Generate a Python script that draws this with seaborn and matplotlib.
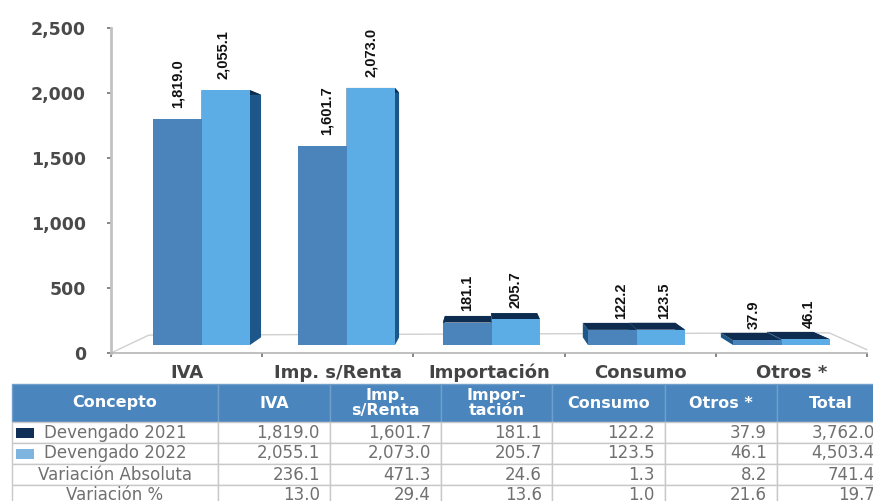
import matplotlib
matplotlib.use("Agg")
import matplotlib.pyplot as plt
from matplotlib.patches import Polygon, Rectangle
import pandas as pd
import seaborn as sns

W, H = 873, 501
categories = ["IVA", "Imp. s/Renta", "Importación", "Consumo", "Otros *"]
series_names = ["Devengado 2021", "Devengado 2022"]
dev_2021 = [1819.0, 1601.7, 181.1, 122.2, 37.9]
dev_2022 = [2055.1, 2073.0, 205.7, 123.5, 46.1]
y_ticks = [0, 500, 1000, 1500, 2000, 2500]

table_cols = ["Concepto", "IVA", "Imp.\ns/Renta", "Impor-\ntación", "Consumo", "Otros *", "Total"]
row_2021 = ["1,819.0", "1,601.7", "181.1", "122.2", "37.9", "3,762.0"]
row_2022 = ["2,055.1", "2,073.0", "205.7", "123.5", "46.1", "4,503.4"]
row_abs = ["236.1", "471.3", "24.6", "1.3", "8.2", "741.4"]
row_pct = ["13.0", "29.4", "13.6", "1.0", "21.6", "19.7"]
row_names = ["Devengado 2021", "Devengado 2022", "Variación Absoluta", "Variación %"]

sns.set_theme(style="white")
plt.rcParams["font.family"] = ["DejaVu Sans"]
fig = plt.figure(figsize=(W / 100, H / 100), dpi=100, facecolor="white")


def axes_px(x0, y_top, x1, y_bot, **kw):
    return fig.add_axes([x0 / W, 1 - y_bot / H, (x1 - x0) / W, (y_bot - y_top) / H], **kw)


# scale axis: value scale and category labels on the chart's front edge
ax0 = axes_px(111, 28, 867, 353)
ax0.set_xlim(0, 5)
ax0.set_ylim(0, 2500)
ax0.set_yticks(y_ticks)
ax0.set_yticklabels([f"{v:,}" for v in y_ticks], fontsize=12.5, color="#4a4a4a", fontweight="bold")
ax0.set_xticks(range(6))
ax0.set_xticklabels([])
ax0.set_xticks([i + 0.5 for i in range(5)], minor=True)
ax0.set_xticklabels(categories, minor=True, fontsize=13, color="#444444", fontweight="bold", va="baseline")
ax0.tick_params(axis="x", which="minor", length=0, pad=18)
ax0.tick_params(axis="x", which="major", length=3, color="#777777", direction="out", bottom=True)
ax0.tick_params(axis="y", length=3, color="#777777", left=True, pad=15)
for s in ["top", "right"]:
    ax0.spines[s].set_visible(False)
ax0.spines["left"].set_color("#c2c2c2")
ax0.spines["left"].set_linewidth(2)
ax0.spines["bottom"].set_color("#b5b5b5")
ax0.spines["bottom"].set_linewidth(1.2)
# receding floor edges
ax0.plot([0.0, 0.05, 0.95, 1.0], [0, 0.055, 0.062, 0.01], transform=ax0.transAxes,
         color="#d0d0d0", lw=1, clip_on=False)

# bar axis: front plane of the columns
ax = axes_px(129, 345 - 0.124 * 2500, 854, 345)
ax.patch.set_alpha(0)
df = pd.DataFrame({
    "Concepto": categories * 2,
    "Serie": [series_names[0]] * 5 + [series_names[1]] * 5,
    "Valor": dev_2021 + dev_2022,
})
sns.barplot(data=df, x="Concepto", y="Valor", hue="Serie", order=categories, hue_order=series_names,
            palette=["#4a84ba", "#5cade6"], width=0.669, dodge=True, gap=0, saturation=1,
            legend=False, ax=ax, zorder=3, edgecolor="none", linewidth=0)
ax.set_xlim(-0.5, 4.5)
ax.set_ylim(0, 2500)
ax.axis("off")

VX, VY, K = 480, 185, 0.048
side_col = "#1d5688"
top_col = "#0d2c4f"
fig.canvas.draw()
inv = ax.transData.inverted()


def depth(p):
    """Point p of the front plane carried back towards the vanishing point (ax data coords)."""
    x, y = ax.transData.transform(p)
    y = H - y
    return tuple(inv.transform((x + (VX - x) * K, H - (y + (VY - y) * K))))


bars = [b for b in ax.patches if b.get_height() > 0]
label_dx = [0, 4, 0, 9, -4, -3, 0, 0, 3, 3]
labels = [f"{v:,.1f}" for v in dev_2021 + dev_2022]
for i, b in enumerate(bars):
    x0, x1, h = b.get_x(), b.get_x() + b.get_width(), b.get_height()
    fl, fr, tl, tr = (x0, 0), (x1, 0), (x0, h), (x1, h)
    for p, q in [(fr, tr), (fl, tl)]:
        ax.add_patch(Polygon([p, q, depth(q), depth(p)], closed=True, facecolor=side_col,
                             edgecolor="none", zorder=2))
    ax.add_patch(Polygon([tl, tr, depth(tr), depth(tl)], closed=True, facecolor=top_col,
                         edgecolor="none", zorder=2.5))
    ax.annotate(labels[i], (x0 + b.get_width() / 2, h), xytext=(label_dx[i] * 0.72, 8),
                textcoords="offset points", rotation=90, ha="center", va="bottom",
                fontsize=10.5, fontweight="bold", color="#111111",
                family=["Liberation Sans", "DejaVu Sans"], zorder=5)

# table
col_edges = [12, 218, 330, 441, 552, 665, 777, 885]
row_px = [38, 21, 21, 21, 21]
tab_h = sum(row_px)
tax = axes_px(col_edges[0], 384, col_edges[-1], 384 + tab_h)
tax.axis("off")
rows = [[n] + r for n, r in zip(row_names, [row_2021, row_2022, row_abs, row_pct])]
tbl = tax.table(cellText=[table_cols] + rows, bbox=[0, 0, 1, 1], cellLoc="center",
                colWidths=[(b - a) / (col_edges[-1] - col_edges[0]) for a, b in zip(col_edges, col_edges[1:])])
tbl.auto_set_font_size(False)
for (r, c), cell in tbl.get_celld().items():
    cell.set_height(row_px[r] / tab_h)
    cell.set_linewidth(1)
    cell.set_edgecolor("#c8c8c8")
    cell.get_text().set_fontsize(12)
    if r == 0:
        cell.set_facecolor("#4a86bd")
        cell.set_edgecolor("#6f9fca")
        cell.get_text().set_color("white")
        cell.get_text().set_fontweight("bold")
        cell.get_text().set_fontsize(11.5)
        cell.get_text().set_linespacing(1.0)
    else:
        cell.set_facecolor("white")
        cell.get_text().set_color("#707070")
        if c > 0:
            cell.get_text().set_ha("right")
            cell.PAD = 10 / (col_edges[c + 1] - col_edges[c])
            cell._loc = "right"

# legend keys inside the first column
for r, col in zip([1, 2], ["#0f2f57", "#7db5e0"]):
    y = 1 - (38 + 21 * (r - 1) + 10.5) / tab_h
    tax.add_patch(Rectangle((4 / 873, y - 5 / tab_h), 18 / 873, 10 / tab_h, facecolor=col,
                            edgecolor="none", transform=tax.transAxes, zorder=10))

fig.savefig("out.png", dpi=100)
